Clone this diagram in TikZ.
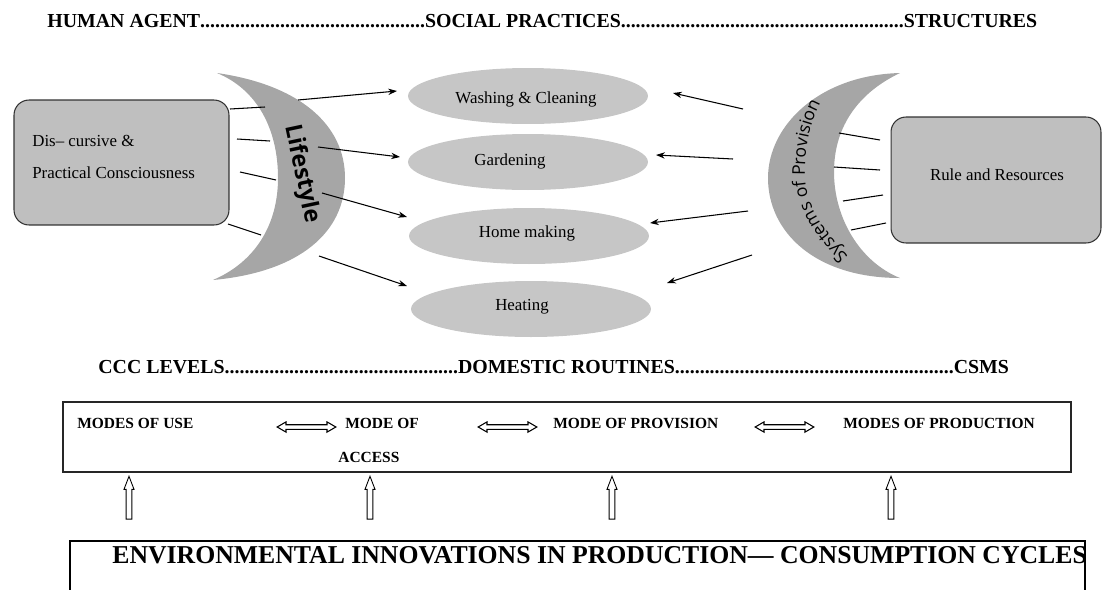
\documentclass[tikz,border=0pt]{standalone}
\usepackage{fontspec}
\setmainfont{Liberation Serif}
\newfontfamily\opensans{Open Sans}
\usetikzlibrary{shapes.geometric,shapes.arrows,arrows.meta,decorations.text}

\definecolor{moongray}{HTML}{A6A6A6}
\definecolor{boxgray}{HTML}{BFBFBF}
\definecolor{practicegray}{HTML}{C6C6C6}

\newcommand{\dotrun}[1]{\makebox[#1]{\xleaders\hbox{.}\hfill}}

\tikzset{
  heading/.style={font=\fontsize{11.3}{13}\selectfont\bfseries, inner sep=0, anchor=base west},
  roundbox/.style={draw=black!80, fill=boxgray, rounded corners=0.3cm, line width=0.6pt, inner sep=0},
  practice/.style={ellipse, fill=practicegray, minimum width=4.8cm, minimum height=1.12cm, inner sep=0},
  boxtext/.style={font=\fontsize{9.6}{11}\selectfont, inner sep=0},
  modetext/.style={font=\fontsize{8.8}{10}\selectfont\bfseries, inner sep=0, anchor=base west},
  moon/.style={fill=moongray},
  link/.style={line width=0.6pt},
  arr/.style={line width=0.6pt, -{Stealth[length=5pt,width=3.6pt]}},
  twoway/.style={double arrow, draw, line width=0.6pt, fill=white, inner sep=1pt,
    double arrow head extend=1.6pt, double arrow tip angle=60, minimum height=33.4pt},
  upway/.style={single arrow, draw, line width=0.5pt, fill=white, inner sep=1.4pt,
    single arrow head extend=1.2pt, single arrow tip angle=42, minimum height=24.4pt, rotate=90},
}

\begin{document}
\begin{tikzpicture}[x=0.02cm, y=-0.02cm]
\useasboundingbox (0,0) rectangle (1102,589);

% headings
\node[heading] (toprow) at (47,27) {HUMAN AGENT\dotrun{4.5cm}SOCIAL PRACTICES\dotrun{5.66cm}STRUCTURES};
\node[heading] (midrow) at (98,373) {CCC LEVELS\dotrun{4.67cm}DOMESTIC ROUTINES\dotrun{5.58cm}CSMS};

% crescents
\fill[moon] (217,73) .. controls (300,85) and (345,125) .. (345,178)
  .. controls (345,232) and (300,272) .. (213,280)
  .. controls (255,262) and (278,225) .. (278,178)
  .. controls (278,130) and (258,90) .. (217,73) -- cycle;
\fill[moon] (900,73) .. controls (820,75) and (768,125) .. (768,178)
  .. controls (768,232) and (815,278) .. (900,278)
  .. controls (860,262) and (834,218) .. (834,172)
  .. controls (834,125) and (860,92) .. (900,73) -- cycle;
\node[font=\opensans\bfseries\fontsize{13.3}{15}\selectfont, rotate=-78, inner sep=0] (lifestyle) at (302,174) {Lifestyle};
\path[decorate, decoration={text along path, text align=center,
    text={|\opensans\fontsize{10}{12}\selectfont|Systems of Provision}}]
  (850,258) .. controls (817,224) and (805,200) .. (805,174)
  .. controls (805,142) and (811,120) .. (822,100);

% boxes
\node[roundbox, minimum width=4.3cm, minimum height=2.5cm] (agent) at (121.5,162.5) {};
\node[boxtext, anchor=base west] (agent1) at (32,146) {Dis– cursive \&};
\node[boxtext, anchor=base west] (agent2) at (32,178) {Practical Consciousness};
\node[roundbox, minimum width=4.2cm, minimum height=2.52cm] (rules) at (996,180) {};
\node[boxtext] (rules1) at (997,175) {Rule and Resources};

% practices
\node[practice] (wash) at (528,96) {};
\node[practice] (garden) at (528,162) {};
\node[practice] (home) at (529,236) {};
\node[practice] (heat) at (531,309) {};
\node[boxtext] (wash1) at (526,99) {Washing \& Cleaning};
\node[boxtext] (garden1) at (510,161) {Gardening};
\node[boxtext] (home1) at (527,233) {Home making};
\node[boxtext] (heat1) at (522,307) {Heating};

% agent side
\foreach \xa/\ya/\xb/\yb [count=\i] in {230/109/265/107, 237/139/270/141, 240/172/276/180, 228/224/261/235}{
  \coordinate (agentA\i) at (\xa,\ya);
  \coordinate (agentB\i) at (\xb,\yb);
  \draw[link] (agentA\i) -- (agentB\i);
}
\foreach \xa/\ya/\xb/\yb [count=\i] in {298/100/397/91, 318/147/400/157, 322/193/407/217, 319/256/407/286}{
  \coordinate (lifeA\i) at (\xa,\ya);
  \coordinate (lifeB\i) at (\xb,\yb);
  \draw[arr] (lifeA\i) -- (lifeB\i);
}

% structure side
\foreach \xa/\ya/\xb/\yb [count=\i] in {839/133/880/140, 834/167/880/170, 843/201/883/195, 851/230/886/223}{
  \coordinate (ruleA\i) at (\xa,\ya);
  \coordinate (ruleB\i) at (\xb,\yb);
  \draw[link] (ruleA\i) -- (ruleB\i);
}
\foreach \xa/\ya/\xb/\yb [count=\i] in {743/109/673/93, 733/159/656/155, 748/211/650/223, 752/255/667/283}{
  \coordinate (provA\i) at (\xa,\ya);
  \coordinate (provB\i) at (\xb,\yb);
  \draw[arr] (provA\i) -- (provB\i);
}

% modes
\node[draw=black!85, line width=1.1pt, minimum width=20.16cm, minimum height=1.4cm, inner sep=0] (band) at (567,437) {};
\node[modetext] (use) at (77,428) {MODES OF USE};
\node[modetext] (access1) at (345,428) {MODE OF};
\node[modetext] (access2) at (338,462) {ACCESS};
\node[modetext] (provision) at (553,428) {MODE OF PROVISION};
\node[modetext] (production) at (843,428) {MODES OF PRODUCTION};
\node[twoway] (useaccess) at (306.5,427) {};
\node[twoway] (accessprov) at (507.5,427) {};
\node[twoway] (provprod) at (784.5,427) {};
\foreach \x [count=\i] in {129,370,612,891}
  \node[upway] (lift\i) at (\x,501.5) {};

% cycles
\draw[line width=1.4pt] (70,592) -- (70,541) -- (1085,541) -- (1085,592);
\node[font=\fontsize{14.65}{16}\selectfont\bfseries, inner sep=0, anchor=base west] (cycles) at (112,563) {ENVIRONMENTAL INNOVATIONS IN PRODUCTION— CONSUMPTION CYCLES};
\end{tikzpicture}
\end{document}
